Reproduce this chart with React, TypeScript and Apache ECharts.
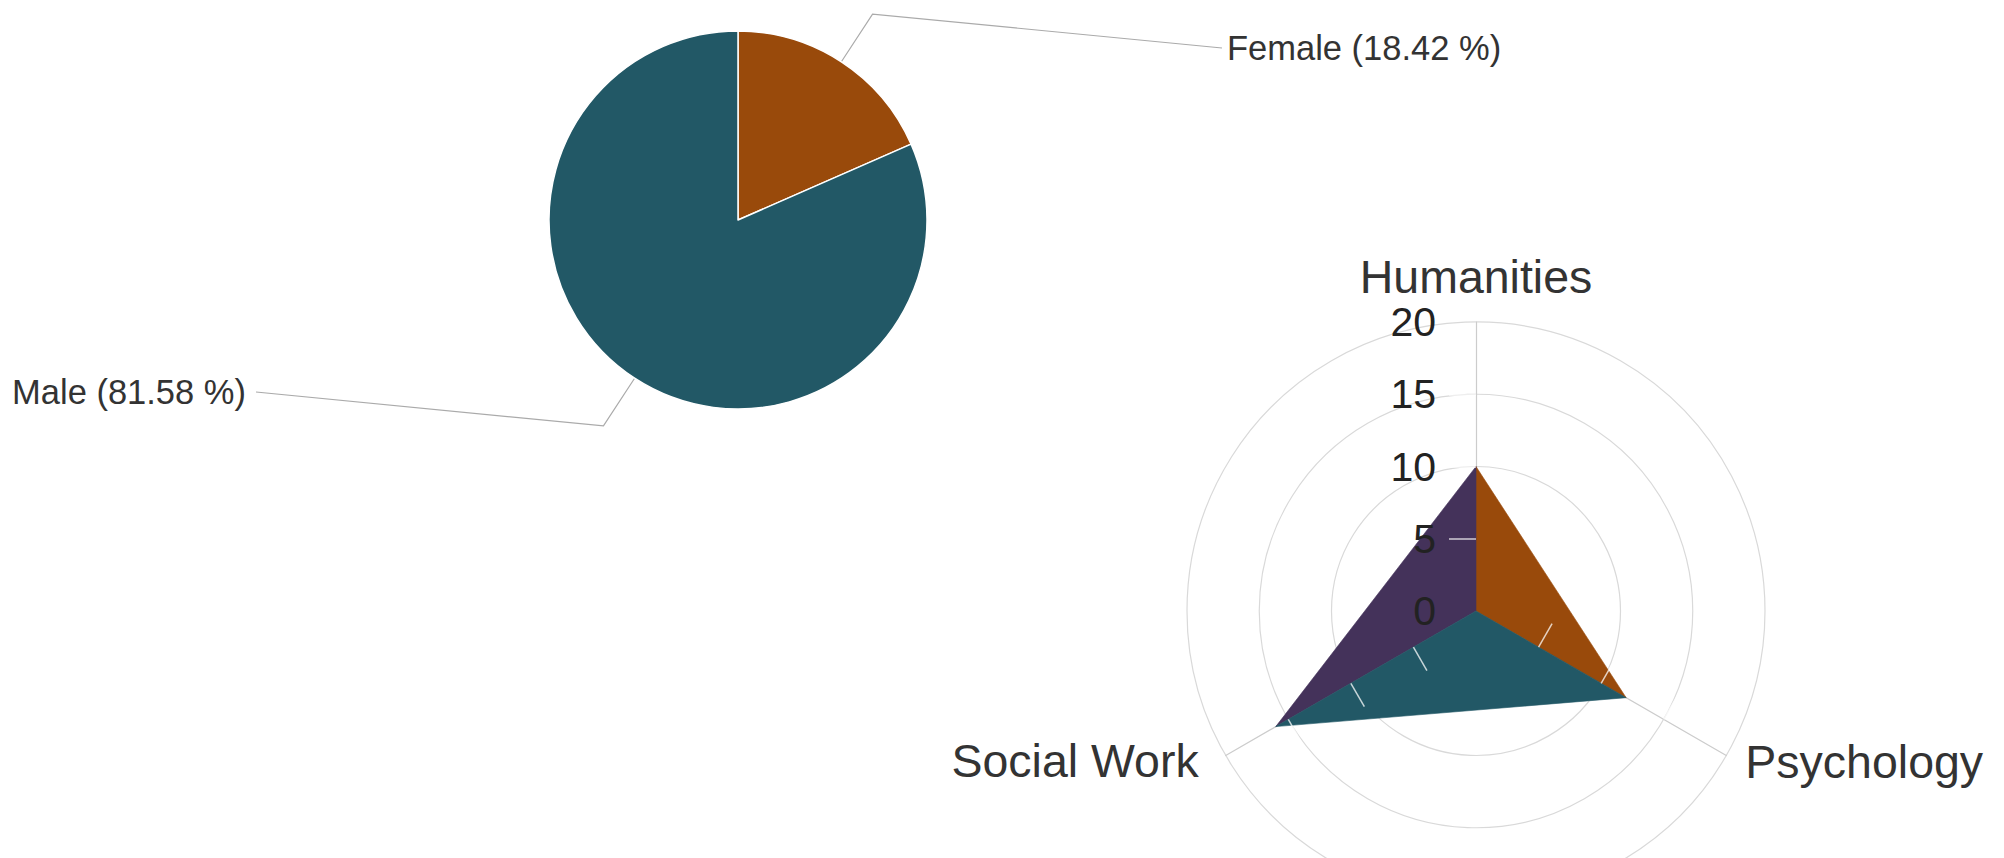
import React, { useEffect, useRef } from 'react';
import * as echarts from 'echarts';

// ---- data ----
const genderLabels = ['Female', 'Male'];
const genderCounts = [7, 31];
const genderColors = ['#994a0b', '#225866'];

const fieldNames = ['Humanities', 'Social Work', 'Psychology'];
const fieldCounts = [10, 16, 12];
const fieldMin = 0;
const fieldMax = 20;
const fieldSplits = 4;
const fieldTickValues = [5, 10, 15];
// each coloured triangle joins two neighbouring fields with the centre
const sectorPairs = [[0, 2], [0, 1], [1, 2]];
const sectorColors = ['#994a0b', '#44325a', '#225866'];

const FONT = '"Liberation Sans", Arial, Helvetica, sans-serif';

export default function App() {
  const ref = useRef<HTMLDivElement>(null);

  useEffect(() => {
    if (!ref.current) return;
    const chart = echarts.init(ref.current, undefined, { renderer: 'svg' });

    const radarCenter = [1476, 611];
    const radarRadius = 289;

    const labelPos: Record<number, { x: number; y: number; align: string }> = {
      0: { x: 1227, y: 48, align: 'left' },
      1: { x: 246, y: 392, align: 'right' },
    };

    const nameStyle = { color: '#333333', fontSize: 46.5, fontFamily: FONT };

    const option: any = {
      animation: false,
      backgroundColor: '#ffffff',
      radar: [
        {
          center: radarCenter,
          radius: radarRadius,
          startAngle: 90,
          shape: 'circle',
          splitNumber: fieldSplits,
          nameGap: 22,
          axisName: {
            ...nameStyle,
            formatter: (name: string) =>
              name === fieldNames[0] ? `{top|${name}}` : name === fieldNames[1] ? `{left|${name}}` : `{right|${name}}`,
            rich: {
              top: { ...nameStyle },
              left: { ...nameStyle, padding: [0, 8, 12, 0] },
              right: { ...nameStyle, padding: [0, 0, 10, 0] },
            },
          },
          indicator: fieldNames.map((name) => ({ name, min: fieldMin, max: fieldMax })),
          axisLine: { show: true, lineStyle: { color: '#cccccc', width: 1.2 } },
          axisTick: { show: false },
          axisLabel: { show: false },
          splitLine: { show: true, lineStyle: { color: '#d9d9d9', width: 1.2 } },
          splitArea: { show: false },
        },
        {
          center: radarCenter,
          radius: radarRadius,
          startAngle: 90,
          shape: 'circle',
          splitNumber: fieldSplits,
          z: 3,
          silent: true,
          axisName: { show: false },
          indicator: fieldNames.map((name, i) => ({
            name,
            min: fieldMin,
            max: fieldMax,
            axisLabel: { show: i === 0 },
          })),
          axisLine: { show: false },
          axisLabel: { show: false, color: '#222222', fontSize: 41, margin: 40, fontFamily: FONT },
          axisTick: {
            show: true,
            length: 27,
            customValues: fieldTickValues,
            lineStyle: { color: 'rgba(255,255,255,0.75)', width: 1.5 },
          },
          splitLine: { show: false },
          splitArea: { show: false },
        },
      ],
      series: [
        {
          type: 'pie',
          center: [738, 220],
          radius: 189,
          startAngle: 90,
          clockwise: true,
          silent: true,
          data: genderLabels.map((name, i) => ({
            name,
            value: genderCounts[i],
            itemStyle: { color: genderColors[i] },
          })),
          itemStyle: { borderColor: '#ffffff', borderWidth: 1.5 },
          label: {
            show: true,
            position: 'outside',
            formatter: '{b} ({d} %)',
            fontSize: 34.5,
            color: '#333333',
            fontFamily: FONT,
          },
          labelLine: { show: true, length: 57, length2: 20, lineStyle: { color: '#aaaaaa', width: 1.2 } },
          labelLayout: (params: any) => {
            const p = labelPos[params.dataIndex];
            const pts = params.labelLinePoints;
            const res: any = { x: p.x, y: p.y, align: p.align, verticalAlign: 'middle' };
            if (pts && pts.length >= 2) {
              const dx = pts[1][0] - pts[0][0];
              const dy = pts[1][1] - pts[0][1];
              const len = Math.sqrt(dx * dx + dy * dy) || 1;
              const bend = [pts[0][0] + (dx / len) * 57, pts[0][1] + (dy / len) * 57];
              const endX = p.align === 'left' ? p.x - 5 : p.x + 10;
              res.labelLinePoints = [pts[0], bend, [endX, p.y]];
            }
            return res;
          },
        },
        ...sectorPairs.map((pair, i) => ({
          type: 'radar',
          radarIndex: 0,
          symbol: 'none',
          silent: true,
          z: 2,
          lineStyle: { width: 0.6, color: sectorColors[i] },
          areaStyle: { color: sectorColors[i], opacity: 1 },
          data: [
            {
              name: fieldNames[pair[0]] + ' / ' + fieldNames[pair[1]],
              value: fieldCounts.map((v, k) => (pair.indexOf(k) >= 0 ? v : 0)),
            },
          ],
        })),
      ],
    };

    chart.setOption(option);
    return () => {
      chart.dispose();
    };
  }, []);

  return (
    <div
      ref={ref}
      style={{ position: 'absolute', left: 0, top: 0, width: 2004, height: 858 }}
    />
  );
}
